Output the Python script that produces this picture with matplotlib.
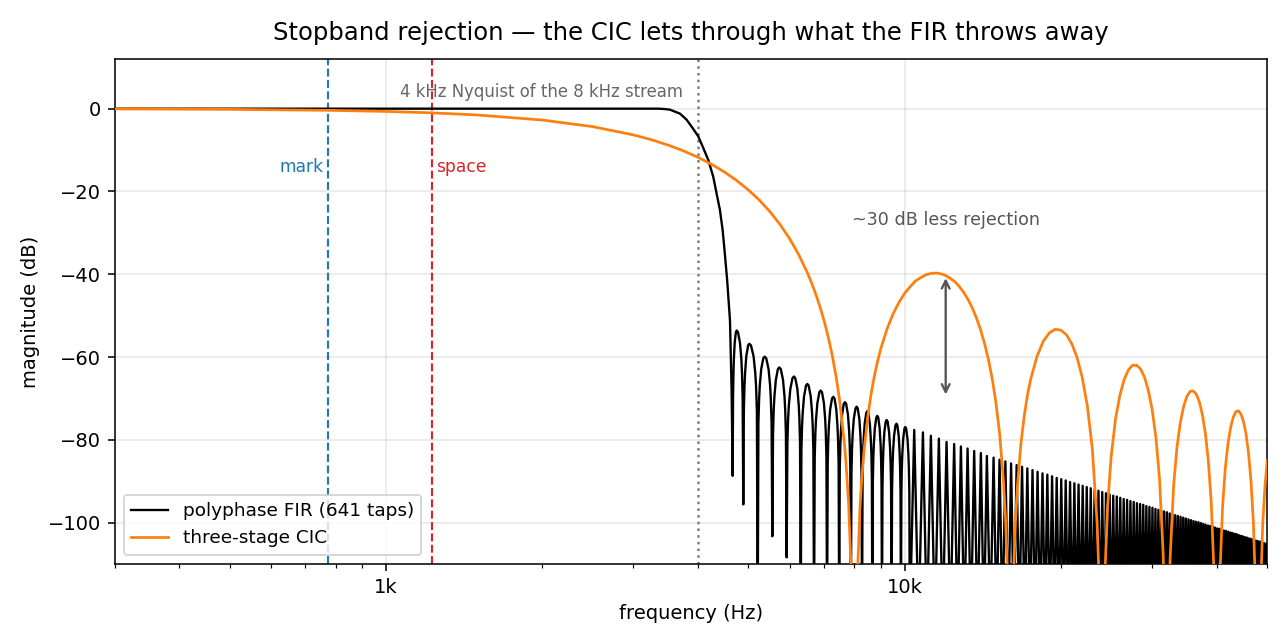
import matplotlib
matplotlib.use("Agg")
import matplotlib.pyplot as plt
import matplotlib.ticker as mticker
import numpy as np

# ---------------------------------------------------------------------
# data (frequency in Hz, magnitude in dB)
# ---------------------------------------------------------------------
MARK_HZ = 775
SPACE_HZ = 1225
NYQUIST_HZ = 4000

# polyphase FIR: passband, transition and the first wide sidelobes
fir_hz = [
    300, 1000, 3000, 3350, 3440, 3529, 3690, 3802, 3904, 4002, 4092, 4184,
    4276, 4342, 4406, 4459, 4510, 4550, 4607, 4640, 4662,
    4670, 4679, 4687, 4704, 4729, 4746, 4774, 4816, 4845, 4859, 4873, 4887,
    4900, 4913, 4927, 4953, 4993, 5019, 5057, 5115, 5153, 5172, 5191, 5210,
    5226, 5243, 5259, 5292, 5341, 5374, 5411, 5467, 5504, 5522, 5541, 5559,
    5577, 5594, 5612, 5647, 5699, 5734, 5772, 5829, 5867, 5886, 5905, 5924,
    5944, 5963, 5983, 6022, 6080, 6119, 6156, 6213, 6250, 6269, 6287, 6306,
    6325, 6343, 6362, 6400, 6456, 6493, 6532, 6592, 6631, 6651, 6670, 6690,
    6710, 6730, 6750, 6790, 6850, 6890, 6930, 6989, 7029, 7048, 7068, 7088,
    7108, 7128, 7147, 7187, 7246, 7286, 7325, 7383, 7422, 7441, 7461, 7480,
    7499, 7519, 7538, 7577, 7634, 7673, 7714, 7776, 7817, 7837, 7858, 7878,
    7898, 7919, 7939, 7980, 8041, 8082, 8121, 8180, 8219, 8239, 8258, 8278,
    8298, 8317, 8337, 8376, 8435, 8474, 8512, 8570, 8608, 8628, 8647, 8666,
    8685, 8704, 8723, 8762, 8819, 8857, 8895, 8951, 8989, 9007, 9026, 9045,
    9064, 9083, 9101, 9139, 9195, 9233, 9274, 9335, 9376, 9396, 9417, 9437,
    9458, 9479, 9499, 9541, 9603, 9645, 9684, 9742, 9780, 9799, 9819, 9838,
    9857, 9876, 9896, 9934, 9992, 10030, 10070, 10131, 10171, 10192, 10212, 10232,
]
fir_db = [
    0, 0, 0, 0, -0.08, -0.24, -1.2, -2.7, -4.7, -6.7, -9.5, -12.4,
    -16.4, -20.5, -24.5, -29.3, -36.0, -41.5, -51.2, -68.0, -88.7,
    -69.7, -63.8, -60.5, -56.6, -54.0, -53.6, -54.0, -56.6, -60.5, -63.8, -69.7, -95.6,
    -72.9, -67.0, -63.7, -59.8, -57.2, -56.8, -57.2, -59.8, -63.7, -67.0, -72.9, -125,
    -76.0, -70.1, -66.8, -62.9, -60.3, -59.9, -60.3, -62.9, -66.8, -70.1, -76.0, -103.3,
    -78.6, -72.7, -69.4, -65.5, -62.9, -62.5, -62.9, -65.5, -69.4, -72.7, -78.6, -108.4,
    -80.8, -74.9, -71.6, -67.7, -65.1, -64.7, -65.1, -67.7, -71.6, -74.9, -80.8, -125,
    -82.6, -76.7, -73.4, -69.5, -66.9, -66.5, -66.9, -69.5, -73.4, -76.7, -82.6, -125,
    -84.2, -78.3, -75.0, -71.1, -68.5, -68.1, -68.5, -71.1, -75.0, -78.3, -84.2, -125,
    -85.7, -79.8, -76.5, -72.6, -70.0, -69.6, -70.0, -72.6, -76.5, -79.8, -85.7, -125,
    -87.0, -81.1, -77.8, -73.9, -71.3, -70.9, -71.3, -73.9, -77.8, -81.1, -87.0, -125,
    -88.1, -82.2, -78.9, -75.0, -72.4, -72.0, -72.4, -75.0, -78.9, -82.2, -88.1, -125,
    -89.2, -83.3, -80.0, -76.1, -73.5, -73.1, -73.5, -76.1, -80.0, -83.3, -89.2, -125,
    -90.3, -84.4, -81.1, -77.2, -74.6, -74.2, -74.6, -77.2, -81.1, -84.4, -90.3, -125,
    -91.3, -85.4, -82.1, -78.2, -75.6, -75.2, -75.6, -78.2, -82.1, -85.4, -91.3, -125,
    -92.2, -86.3, -83.0, -79.1, -76.5, -76.1, -76.5, -79.1, -83.0, -86.3, -92.2, -125,
    -93.0, -87.1, -83.8, -79.9, -77.3, -76.9, -77.3, -79.9, -83.8, -87.1, -93.0, -125,
]

# dense stopband sidelobes: peak of each lobe and the null after it
fir_peak_hz = [
    10435, 10846, 11236, 11641, 12045, 12459, 12838,
    13224, 13617, 14027, 14406, 14841, 15240,
    15640, 16040, 16440, 16840, 17240, 17640, 18040, 18440, 18840, 19240,
    19640, 20040, 20440, 20840, 21240, 21640, 22040, 22440, 22840, 23240,
    23640, 24040, 24440, 24840, 25240, 25640, 26040, 26440, 26840, 27240,
    27640, 28040, 28440, 28840, 29240, 29640, 30040, 30440, 30840, 31240,
    31640, 32040, 32440, 32840, 33240, 33640, 34040, 34440, 34840, 35240,
    35640, 36040, 36440, 36840, 37240, 37640, 38040, 38440, 38840, 39240,
    39640, 40040, 40440, 40840, 41240, 41640, 42040, 42440, 42840, 43240,
    43640, 44040, 44440, 44840, 45240, 45640, 46040, 46440, 46840, 47240,
    47640, 48040, 48440, 48840, 49240, 49640, 50040,
]
fir_peak_db = [
    -77.6, -78.2, -79.0, -79.7, -80.5, -81.0, -81.6,
    -82.1, -82.7, -83.2, -83.9, -84.3, -84.8,
    -85.2, -85.7, -86.1, -86.5, -86.9, -87.3, -87.7, -88.1, -88.4, -88.8,
    -89.2, -89.5, -89.8, -90.2, -90.5, -90.8, -91.1, -91.4, -91.7, -92.0,
    -92.3, -92.6, -92.9, -93.2, -93.5, -93.7, -94.0, -94.3, -94.5, -94.8,
    -95.0, -95.3, -95.5, -95.7, -96.0, -96.2, -96.4, -96.7, -96.9, -97.1,
    -97.3, -97.5, -97.8, -98.0, -98.2, -98.4, -98.6, -98.8, -99.0, -99.2,
    -99.4, -99.6, -99.8, -99.9, -100.1, -100.3, -100.5, -100.7, -100.8, -101.0,
    -101.2, -101.4, -101.5, -101.7, -101.9, -102.0, -102.2, -102.4, -102.5, -102.7,
    -102.8, -103.0, -103.2, -103.3, -103.5, -103.6, -103.8, -103.9, -104.1, -104.2,
    -104.4, -104.5, -104.6, -104.8, -104.9, -105.1, -105.2,
]
fir_null_hz = [
    10640, 11041, 11438, 11843, 12252, 12648, 13031,
    13420, 13822, 14216, 14623, 15040, 15440,
    15840, 16240, 16640, 17040, 17440, 17840, 18240, 18640, 19040, 19440,
    19840, 20240, 20640, 21040, 21440, 21840, 22240, 22640, 23040, 23440,
    23840, 24240, 24640, 25040, 25440, 25840, 26240, 26640, 27040, 27440,
    27840, 28240, 28640, 29040, 29440, 29840, 30240, 30640, 31040, 31440,
    31840, 32240, 32640, 33040, 33440, 33840, 34240, 34640, 35040, 35440,
    35840, 36240, 36640, 37040, 37440, 37840, 38240, 38640, 39040, 39440,
    39840, 40240, 40640, 41040, 41440, 41840, 42240, 42640, 43040, 43440,
    43840, 44240, 44640, 45040, 45440, 45840, 46240, 46640, 47040, 47440,
    47840, 48240, 48640, 49040, 49440, 49840, 50240,
]
FIR_NULL_DB = -125

# three-stage CIC
cic_hz = [
    300, 500, 775, 1000, 1225, 1500, 2000, 2500, 3000, 3250, 3500, 3750,
    4000, 4250, 4500, 4750, 5000, 5250, 5500, 5750, 6000, 6250, 6500, 6625,
    6750, 6875, 7000, 7125, 7250, 7375, 7500, 7650, 7700, 7800, 7900, 8000,
    8100, 8200, 8250, 8350, 8500, 8625, 8750, 8875, 9000, 9250, 9500, 9750,
    10000, 10250, 10500, 10750, 11000, 11250, 11500, 11750, 12000, 12250,
    12500, 12750, 13000, 13250, 13500, 13750, 14000, 14250, 14500, 14750,
    15000, 15250, 15500, 15650, 15800, 16000,
    16200, 16350, 16500, 16750, 17000, 17250, 17500, 18000, 18500, 19000,
    19500, 20000, 20500, 21000, 21500, 22000, 22500, 23000, 23500, 23700, 24000,
    24300, 24600, 25000, 25500, 26000, 26500, 27000, 27500, 28000, 28500,
    29000, 29500, 30000, 30500, 31000, 31500, 31700, 32000,
    32300, 32500, 33000, 33500, 34000, 34500, 35000, 35500, 36000, 36500,
    37000, 37500, 38000, 38500, 39000, 39500, 40000,
    40500, 41000, 41500, 42000, 42500, 43000, 43500, 44000, 44500, 45000,
    45500, 46000, 46500, 47000, 47500, 48000, 48500, 49000, 49500, 50000,
]
cic_db = [
    -0.06, -0.17, -0.40, -0.67, -1.01, -1.52, -2.74, -4.33, -6.33, -7.50, -8.79, -10.21,
    -11.76, -13.47, -15.34, -17.39, -19.65, -22.13, -24.87, -27.93, -31.36, -35.25, -39.73, -42.25,
    -45.0, -48.02, -51.38, -55.16, -59.5, -64.57, -70.73, -80.5, -84.6, -95.5, -113.9, -160,
    -114.5, -96.8, -91.2, -82.7, -74.0, -68.65, -64.4, -60.9, -57.9, -53.2, -49.6, -46.8,
    -44.6, -43.0, -41.6, -40.8, -40.1, -39.8, -39.7, -39.9, -40.3, -41.0,
    -41.8, -43.0, -44.4, -46.1, -48.1, -50.5, -53.3, -56.6, -60.5, -65.2,
    -71.1, -78.7, -89.6, -99.0, -113.7, -160,
    -114.3, -100.1, -91.1, -81.1, -74.3, -69.2, -65.3, -59.8, -56.2, -54.2,
    -53.3, -53.5, -54.6, -56.8, -60.1, -65.0, -71.8, -82.1, -100.2, -113.6, -160,
    -114.2, -96.6, -84.2, -74.9, -69.2, -65.4, -63.1, -62.0, -62.0, -62.9,
    -64.9, -68.1, -72.7, -79.4, -89.5, -107.5, -121, -160,
    -121, -108.2, -91.0, -81.7, -75.8, -71.9, -69.5, -68.3, -68.2, -69.0,
    -70.9, -74.0, -78.5, -85.2, -95.2, -113.0, -160,
    -113.6, -96.3, -86.9, -80.9, -77.0, -74.5, -73.2, -73.0, -73.8, -75.6,
    -78.6, -83.1, -89.7, -99.6, -117.4, -160, -117.9, -100.5, -91.0, -85.0,
]

GAP_HZ = 12000
GAP_TOP_DB = -40
GAP_BOTTOM_DB = -70


def khz_label(x, pos):
    return f"{x / 1000:g}k"


def main():
    fig, ax = plt.subplots(figsize=(9.2, 4.6), dpi=140)
    plt.subplots_adjust(left=0.0889, right=0.9839, top=0.9084, bottom=0.1242)

    # FIR: smooth part followed by the comb of sidelobes
    dense_hz = np.column_stack([fir_peak_hz, fir_null_hz]).ravel()
    dense_db = np.column_stack(
        [fir_peak_db, np.full(len(fir_null_hz), FIR_NULL_DB)]
    ).ravel()
    fir_x = np.concatenate([fir_hz, dense_hz])
    fir_y = np.concatenate([fir_db, dense_db])

    ax.plot(fir_x, fir_y, color="black", lw=1.2,
            label="polyphase FIR (641 taps)", zorder=3)
    ax.plot(cic_hz, cic_db, color="#ff7f0e", lw=1.4,
            label="three-stage CIC", zorder=4)

    # tone markers and Nyquist
    ax.axvline(MARK_HZ, color="#1f77b4", ls="--", lw=1.1, zorder=2)
    ax.axvline(SPACE_HZ, color="#d62728", ls="--", lw=1.1, zorder=2)
    ax.axvline(NYQUIST_HZ, color="gray", ls=":", lw=1.3, zorder=2)

    ax.text(MARK_HZ * 0.98, -14, "mark", color="#1f77b4",
            ha="right", va="center", fontsize=8.8)
    ax.text(SPACE_HZ * 1.02, -14, "space", color="#d62728",
            ha="left", va="center", fontsize=8.8)
    ax.text(2000, 4, "4 kHz Nyquist of the 8 kHz stream", color="#666666",
            ha="center", va="center", fontsize=8.5)

    # rejection gap
    ax.annotate("", xy=(GAP_HZ, GAP_TOP_DB), xytext=(GAP_HZ, GAP_BOTTOM_DB),
                arrowprops=dict(arrowstyle="<->", color="#555555", lw=1.2))
    ax.text(GAP_HZ, -27, "~30 dB less rejection", color="#555555",
            ha="center", va="center", fontsize=9)

    ax.set_xscale("log")
    ax.set_xlim(300, 50000)
    ax.set_ylim(-110, 12)
    ax.set_yticks([-100, -80, -60, -40, -20, 0])
    ax.xaxis.set_major_formatter(mticker.FuncFormatter(khz_label))
    ax.xaxis.set_minor_formatter(mticker.NullFormatter())

    ax.grid(True, which="major", alpha=0.3)
    ax.set_axisbelow(True)

    ax.set_xlabel("frequency (Hz)")
    ax.set_ylabel("magnitude (dB)")
    ax.set_title("Stopband rejection \u2014 the CIC lets through what the FIR throws away",
                 fontsize=12.5, pad=10)

    ax.legend(loc="lower left", fontsize=9.5)

    fig.savefig("out.png", dpi=140, facecolor="white")


if __name__ == "__main__":
    main()
